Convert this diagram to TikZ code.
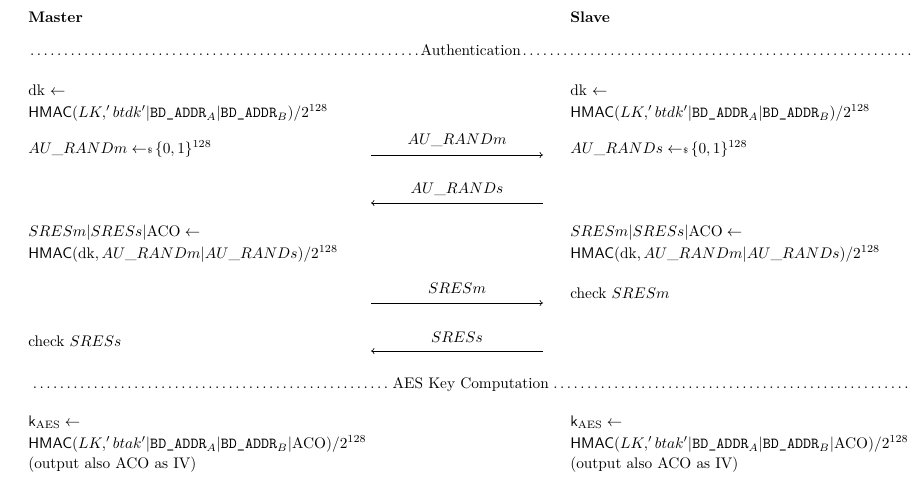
\documentclass[tikz,border=0pt]{standalone}
\usepackage{amsmath,amssymb}
\usetikzlibrary{arrows.meta}
\newcommand{\smp}{\leftarrow\hspace{-0.25em}{\scriptscriptstyle\$}\,}
\newcommand{\bdA}{\texttt{BD\_ADDR}_A}
\newcommand{\bdB}{\texttt{BD\_ADDR}_B}
\begin{document}
\begin{tikzpicture}[x=0.652pt,y=-0.652pt,
  txt/.style={anchor=base west, inner sep=0pt},
  msg/.style={anchor=base, inner sep=0pt},
  flow/.style={line width=0.4pt, -{To[length=2.2pt,width=4pt]}},
  sect/.style={anchor=base west, inner sep=0pt, text width=577pt}]
\useasboundingbox (0,0) rectangle (918,485);

% party headings
\node[txt] (master) at (28,22.5) {\textbf{Master}};
\node[txt] (slave) at (570,22.5) {\textbf{Slave}};

% authentication phase
\node[sect] (auth) at (28,55) {\dotfill Authentication\dotfill};

\node[txt] (mdk) at (28,95.5) {dk $\leftarrow$};
\node[txt] (mdkh) at (28,117.5) {$\mathsf{HMAC}(LK,'btdk'|\bdA|\bdB)/2^{128}$};
\node[txt] (sdk) at (570,95.5) {dk $\leftarrow$};
\node[txt] (sdkh) at (570,117.5) {$\mathsf{HMAC}(LK,'btdk'|\bdA|\bdB)/2^{128}$};

\node[txt] (mrand) at (28,153.5) {$AU\_RANDm \smp \{0,1\}^{128}$};
\node[txt] (srand) at (570,153.5) {$AU\_RANDs \smp \{0,1\}^{128}$};

\coordinate (a1l) at (371,155); \coordinate (a1r) at (543,155);
\draw[flow] (a1l) -- (a1r);
\node[msg] (l1) at (457,144) {$AU\_RANDm$};

\coordinate (a2l) at (371,203); \coordinate (a2r) at (543,203);
\draw[flow] (a2r) -- (a2l);
\node[msg] (l2) at (457,193) {$AU\_RANDs$};

\node[txt] (mres) at (28,236.5) {$SRESm|SRESs|\mathrm{ACO} \leftarrow$};
\node[txt] (mresh) at (28,258.5) {$\mathsf{HMAC}(\mathrm{dk},AU\_RANDm|AU\_RANDs)/2^{128}$};
\node[txt] (sres) at (570,236.5) {$SRESm|SRESs|\mathrm{ACO} \leftarrow$};
\node[txt] (sresh) at (570,258.5) {$\mathsf{HMAC}(\mathrm{dk},AU\_RANDm|AU\_RANDs)/2^{128}$};

\coordinate (a3l) at (371,303); \coordinate (a3r) at (543,303);
\draw[flow] (a3l) -- (a3r);
\node[msg] (l3) at (457,293) {$SRESm$};
\node[txt] (schk) at (570,298.5) {check $SRESm$};

\coordinate (a4l) at (371,351); \coordinate (a4r) at (543,351);
\draw[flow] (a4r) -- (a4l);
\node[msg] (l4) at (457,342) {$SRESs$};
\node[txt] (mchk) at (28,346.5) {check $SRESs$};

% AES key computation phase
\node[sect] (aes) at (28,388.5) {\dotfill AES Key Computation\dotfill};

\node[txt] (mk) at (28,426.5) {$\mathsf{k}_{\mathrm{AES}} \leftarrow$};
\node[txt] (mkh) at (28,448.5) {$\mathsf{HMAC}(LK,'btak'|\bdA|\bdB|\mathrm{ACO})/2^{128}$};
\node[txt] (mko) at (28,468.5) {(output also ACO as IV)};
\node[txt] (sk) at (570,426.5) {$\mathsf{k}_{\mathrm{AES}} \leftarrow$};
\node[txt] (skh) at (570,448.5) {$\mathsf{HMAC}(LK,'btak'|\bdA|\bdB|\mathrm{ACO})/2^{128}$};
\node[txt] (sko) at (570,468.5) {(output also ACO as IV)};
\end{tikzpicture}
\end{document}
